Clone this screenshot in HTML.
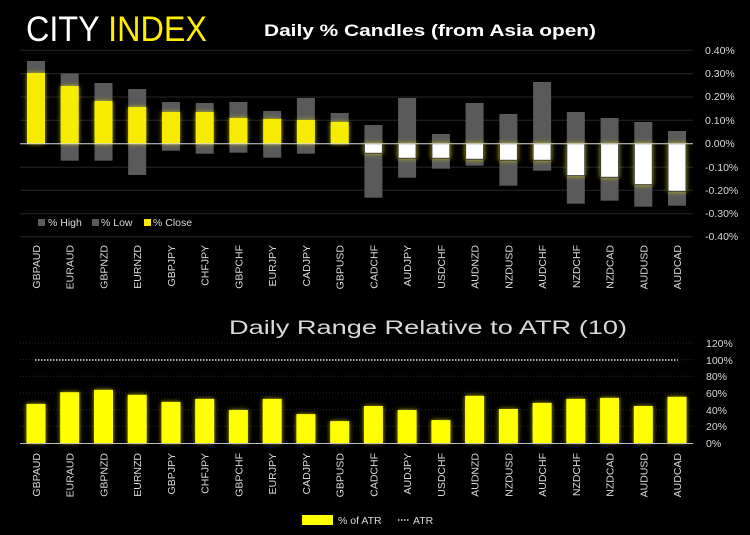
<!DOCTYPE html>
<html><head><meta charset="utf-8"><style>
html,body{margin:0;padding:0;background:#000;}
svg{display:block;font-family:"Liberation Sans",sans-serif;}
</style></head><body>
<svg width="750" height="535" viewBox="0 0 750 535" xmlns="http://www.w3.org/2000/svg">
<defs>
<filter id="g" x="-50%" y="-50%" width="200%" height="200%"><feGaussianBlur in="SourceAlpha" stdDeviation="2.5"/><feFlood flood-color="#e8e000" flood-opacity="0.75"/><feComposite operator="in" in2="SourceAlpha"/><feGaussianBlur stdDeviation="2.5"/><feMerge><feMergeNode/><feMergeNode in="SourceGraphic"/></feMerge></filter>
</defs>
<rect width="750" height="535" fill="#000"/>
<text x="26" y="41" font-size="35" fill="#fff" textLength="181" lengthAdjust="spacingAndGlyphs">CITY <tspan fill="#ffee00">INDEX</tspan></text>
<text x="264" y="36" font-size="17" font-weight="bold" fill="#fff" textLength="332" lengthAdjust="spacingAndGlyphs">Daily % Candles (from Asia open)</text>
<!-- top grid -->
<g stroke="#262626" stroke-width="1">
<line x1="20" y1="50.3" x2="693" y2="50.3"/><line x1="20" y1="73.7" x2="693" y2="73.7"/><line x1="20" y1="97" x2="693" y2="97"/><line x1="20" y1="120.3" x2="693" y2="120.3"/><line x1="20" y1="167.3" x2="693" y2="167.3"/><line x1="20" y1="190.3" x2="693" y2="190.3"/><line x1="20" y1="213.7" x2="693" y2="213.7"/><line x1="20" y1="236.7" x2="693" y2="236.7"/>
</g>
<g font-size="10.5" fill="#d9d9d9">
<text x="705" y="54">0.40%</text><text x="705" y="77">0.30%</text><text x="705" y="100">0.20%</text><text x="705" y="124">0.10%</text><text x="705" y="147">0.00%</text><text x="705" y="171">-0.10%</text><text x="705" y="194">-0.20%</text><text x="705" y="217">-0.30%</text><text x="705" y="240">-0.40%</text>
</g>
<!-- range bars -->
<g fill="#5a5a5a">
<rect x="27" y="61" width="18" height="82.7"/>
<rect x="60.7" y="73.3" width="18" height="87.4"/>
<rect x="94.5" y="83" width="18" height="77.7"/>
<rect x="128.2" y="89" width="18" height="86"/>
<rect x="162" y="102" width="18" height="48.7"/>
<rect x="195.7" y="103" width="18" height="50.7"/>
<rect x="229.4" y="102" width="18" height="50.7"/>
<rect x="263.2" y="111" width="18" height="46.7"/>
<rect x="296.9" y="98" width="18" height="55.7"/>
<rect x="330.7" y="113" width="18" height="31.5"/>
<rect x="364.4" y="125" width="18" height="72.7"/>
<rect x="398.1" y="98" width="18" height="79.7"/>
<rect x="431.9" y="134" width="18" height="34.7"/>
<rect x="465.6" y="103" width="18" height="62.7"/>
<rect x="499.4" y="114" width="18" height="71.7"/>
<rect x="533.1" y="82" width="18" height="88.7"/>
<rect x="566.8" y="112" width="18" height="91.7"/>
<rect x="600.6" y="118" width="18" height="82.7"/>
<rect x="634.3" y="122" width="18" height="84.7"/>
<rect x="668" y="131" width="18" height="74.7"/>
</g>
<g filter="url(#g)">
<g fill="#f7eb00">
<rect x="27" y="73" width="18" height="70.7"/>
<rect x="60.7" y="86" width="18" height="57.7"/>
<rect x="94.5" y="101" width="18" height="42.7"/>
<rect x="128.2" y="107" width="18" height="36.7"/>
<rect x="162" y="112" width="18" height="31.7"/>
<rect x="195.7" y="112" width="18" height="31.7"/>
<rect x="229.4" y="118" width="18" height="25.7"/>
<rect x="263.2" y="119" width="18" height="24.7"/>
<rect x="296.9" y="120" width="18" height="23.7"/>
<rect x="330.7" y="122" width="18" height="21.7"/>
</g>
<g fill="#fff" stroke="#333" stroke-width="1">
<rect x="364.4" y="143.7" width="18" height="9.6"/>
<rect x="398.1" y="143.7" width="18" height="14.6"/>
<rect x="431.9" y="143.7" width="18" height="14.6"/>
<rect x="465.6" y="143.7" width="18" height="15.6"/>
<rect x="499.4" y="143.7" width="18" height="16.6"/>
<rect x="533.1" y="143.7" width="18" height="16.6"/>
<rect x="566.8" y="143.7" width="18" height="32"/>
<rect x="600.6" y="143.7" width="18" height="33.6"/>
<rect x="634.3" y="143.7" width="18" height="41"/>
<rect x="668" y="143.7" width="18" height="47.6"/>
</g>
</g>
<line x1="20" y1="143.7" x2="693" y2="143.7" stroke="#d9d9d9" stroke-width="1"/>
<!-- legend -->
<g font-size="10.5" fill="#d9d9d9">
<rect x="38" y="219" width="7" height="7" fill="#5a5a5a"/><text x="48" y="226">% High</text>
<rect x="92" y="219" width="7" height="7" fill="#5a5a5a"/><text x="101" y="226">% Low</text>
<rect x="144" y="219" width="7" height="7" fill="#f7eb00"/><text x="153" y="226">% Close</text>
</g>
<!-- top x labels -->
<g font-size="10.5" fill="#d9d9d9" text-anchor="end">
<text transform="translate(40,245) rotate(-90)">GBPAUD</text>
<text transform="translate(73.7,245) rotate(-90)">EURAUD</text>
<text transform="translate(107.5,245) rotate(-90)">GBPNZD</text>
<text transform="translate(141.2,245) rotate(-90)">EURNZD</text>
<text transform="translate(175,245) rotate(-90)">GBPJPY</text>
<text transform="translate(208.7,245) rotate(-90)">CHFJPY</text>
<text transform="translate(242.4,245) rotate(-90)">GBPCHF</text>
<text transform="translate(276.2,245) rotate(-90)">EURJPY</text>
<text transform="translate(309.9,245) rotate(-90)">CADJPY</text>
<text transform="translate(343.7,245) rotate(-90)">GBPUSD</text>
<text transform="translate(377.4,245) rotate(-90)">CADCHF</text>
<text transform="translate(411.1,245) rotate(-90)">AUDJPY</text>
<text transform="translate(444.9,245) rotate(-90)">USDCHF</text>
<text transform="translate(478.6,245) rotate(-90)">AUDNZD</text>
<text transform="translate(512.4,245) rotate(-90)">NZDUSD</text>
<text transform="translate(546.1,245) rotate(-90)">AUDCHF</text>
<text transform="translate(579.8,245) rotate(-90)">NZDCHF</text>
<text transform="translate(613.6,245) rotate(-90)">NZDCAD</text>
<text transform="translate(647.3,245) rotate(-90)">AUDUSD</text>
<text transform="translate(681,245) rotate(-90)">AUDCAD</text>
</g>
<!-- bottom chart -->
<text x="229" y="334" font-size="19" fill="#d9d9d9" textLength="398" lengthAdjust="spacingAndGlyphs">Daily Range Relative to ATR (10)</text>
<g stroke="#2a2a2a" stroke-width="1" stroke-dasharray="1,2">
<line x1="20" y1="343" x2="693" y2="343"/><line x1="20" y1="359.7" x2="693" y2="359.7"/><line x1="20" y1="376.3" x2="693" y2="376.3"/><line x1="20" y1="393" x2="693" y2="393"/><line x1="20" y1="409.7" x2="693" y2="409.7"/><line x1="20" y1="426.3" x2="693" y2="426.3"/>
</g>
<g font-size="10.5" fill="#d9d9d9">
<text x="706" y="347">120%</text><text x="706" y="364">100%</text><text x="706" y="380">80%</text><text x="706" y="397">60%</text><text x="706" y="414">40%</text><text x="706" y="430">20%</text><text x="706" y="447">0%</text>
</g>
<g fill="#ffff00" filter="url(#g)">
<rect x="26.5" y="403.9" width="19" height="39.1"/>
<rect x="60.2" y="392.2" width="19" height="50.8"/>
<rect x="94" y="389.8" width="19" height="53.2"/>
<rect x="127.7" y="394.8" width="19" height="48.2"/>
<rect x="161.5" y="401.9" width="19" height="41.1"/>
<rect x="195.2" y="398.9" width="19" height="44.1"/>
<rect x="228.9" y="410" width="19" height="33"/>
<rect x="262.7" y="398.9" width="19" height="44.1"/>
<rect x="296.4" y="414.1" width="19" height="28.9"/>
<rect x="330.2" y="421.1" width="19" height="21.9"/>
<rect x="363.9" y="406" width="19" height="37"/>
<rect x="397.6" y="410" width="19" height="33"/>
<rect x="431.4" y="420.1" width="19" height="22.9"/>
<rect x="465.1" y="395.8" width="19" height="47.2"/>
<rect x="498.9" y="409" width="19" height="34"/>
<rect x="532.6" y="402.9" width="19" height="40.1"/>
<rect x="566.3" y="398.9" width="19" height="44.1"/>
<rect x="600.1" y="397.9" width="19" height="45.1"/>
<rect x="633.8" y="406" width="19" height="37"/>
<rect x="667.5" y="396.8" width="19" height="46.2"/>
</g>
<line x1="35" y1="360" x2="678" y2="360" stroke="#e6e6e6" stroke-width="1.5" stroke-dasharray="1.5,1.5"/>
<line x1="20" y1="443.5" x2="693" y2="443.5" stroke="#bfbfbf" stroke-width="1"/>
<g font-size="10.5" fill="#d9d9d9" text-anchor="end">
<text transform="translate(40,453) rotate(-90)">GBPAUD</text>
<text transform="translate(73.7,453) rotate(-90)">EURAUD</text>
<text transform="translate(107.5,453) rotate(-90)">GBPNZD</text>
<text transform="translate(141.2,453) rotate(-90)">EURNZD</text>
<text transform="translate(175,453) rotate(-90)">GBPJPY</text>
<text transform="translate(208.7,453) rotate(-90)">CHFJPY</text>
<text transform="translate(242.4,453) rotate(-90)">GBPCHF</text>
<text transform="translate(276.2,453) rotate(-90)">EURJPY</text>
<text transform="translate(309.9,453) rotate(-90)">CADJPY</text>
<text transform="translate(343.7,453) rotate(-90)">GBPUSD</text>
<text transform="translate(377.4,453) rotate(-90)">CADCHF</text>
<text transform="translate(411.1,453) rotate(-90)">AUDJPY</text>
<text transform="translate(444.9,453) rotate(-90)">USDCHF</text>
<text transform="translate(478.6,453) rotate(-90)">AUDNZD</text>
<text transform="translate(512.4,453) rotate(-90)">NZDUSD</text>
<text transform="translate(546.1,453) rotate(-90)">AUDCHF</text>
<text transform="translate(579.8,453) rotate(-90)">NZDCHF</text>
<text transform="translate(613.6,453) rotate(-90)">NZDCAD</text>
<text transform="translate(647.3,453) rotate(-90)">AUDUSD</text>
<text transform="translate(681,453) rotate(-90)">AUDCAD</text>
</g>
<rect x="302" y="515" width="31" height="10" fill="#ffff00"/>
<text x="338" y="524" font-size="10.5" fill="#d9d9d9">% of ATR</text>
<line x1="398" y1="520" x2="410" y2="520" stroke="#e6e6e6" stroke-width="1.5" stroke-dasharray="1.5,1.5"/>
<text x="413" y="524" font-size="10.5" fill="#d9d9d9">ATR</text>
</svg>
</body></html>
